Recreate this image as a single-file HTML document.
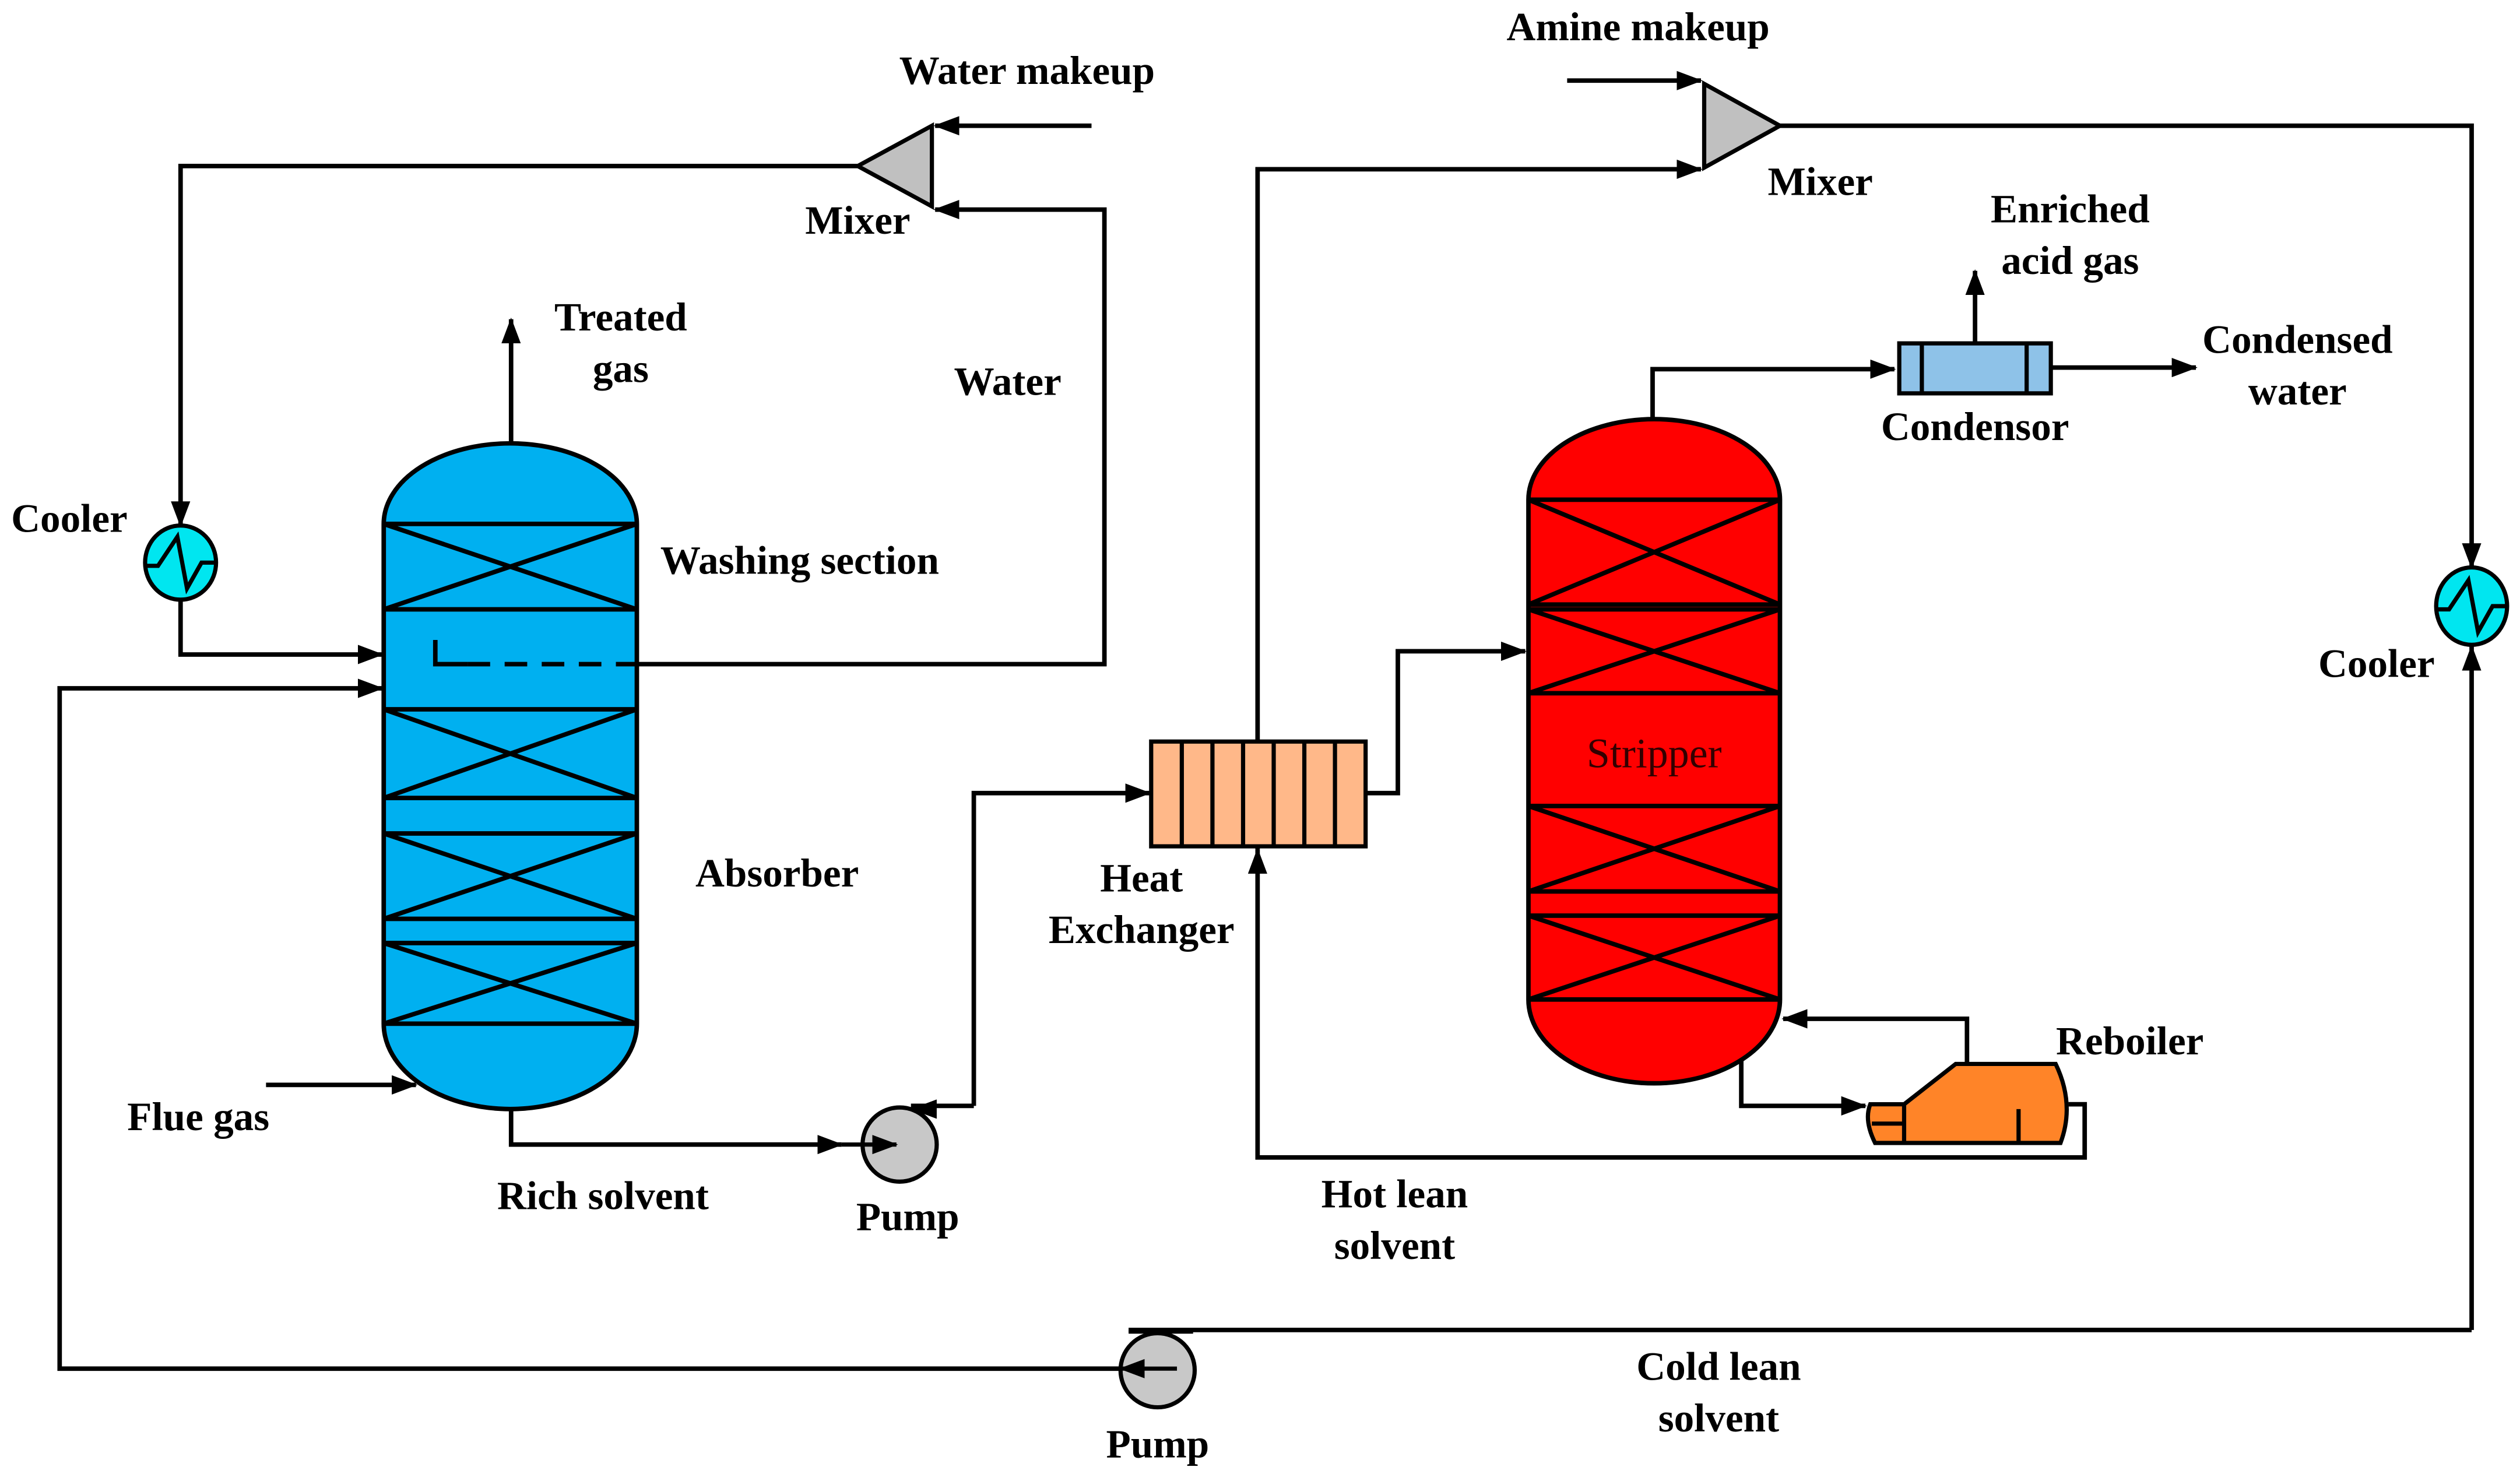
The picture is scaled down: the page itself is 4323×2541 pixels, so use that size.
<!DOCTYPE html>
<html><head><meta charset="utf-8"><style>html,body{margin:0;padding:0;background:#fff}svg{display:block}</style></head>
<body>
<svg width="4323" height="2541" viewBox="0 0 1563 918.7" xmlns="http://www.w3.org/2000/svg">
<defs>
<marker id="b" markerWidth="16" markerHeight="12" refX="15" refY="6" orient="auto" markerUnits="userSpaceOnUse" viewBox="0 0 16 12"><path d="M0,0 L16,6 L0,12 Z" fill="#000"/></marker>
</defs>
<rect width="1563" height="919" fill="#fff"/>
<g fill="none" stroke="#000" stroke-width="2.8">
<path d="M677,78 H580" marker-end="url(#b)"/>
<path d="M532,103 H112 V326" marker-end="url(#b)"/>
<path d="M112,372 V406 H237" marker-end="url(#b)"/>
<path d="M395,412 H685 V130 H580" marker-end="url(#b)"/>
<path d="M317,275 V198" marker-end="url(#b)"/>
<path d="M165,673 H258" marker-end="url(#b)"/>
<path d="M317,688 V710 H522" marker-end="url(#b)"/>
<path d="M604,686 H565"/>
<path d="M604,686 V492 H713" marker-end="url(#b)"/>
<path d="M847,492 H867 V404 H946" marker-end="url(#b)"/>
<path d="M1283,685 H1293 V718 H780 V527" marker-end="url(#b)"/>
<path d="M780,527 V105 H1055" marker-end="url(#b)"/>
<path d="M972,50 H1055" marker-end="url(#b)"/>
<path d="M1104,78 H1533 V352" marker-end="url(#b)"/>
<path d="M1533,825 V401" marker-end="url(#b)"/>
<path d="M1533,825 H700"/>
<path d="M695,849 H37 V427 H237" marker-end="url(#b)"/>
<path d="M1025,260 V229 H1175" marker-end="url(#b)"/>
<path d="M1225,212 V168" marker-end="url(#b)"/>
<path d="M1272,228 H1362" marker-end="url(#b)"/>
<path d="M1080,655 V686 H1157" marker-end="url(#b)"/>
<path d="M1220,660 V632 H1106" marker-end="url(#b)"/>
</g>
<g stroke="#000" stroke-width="2.8">
<path d="M238,325 A78.5,50 0 0 1 395,325 V635 A78.5,53 0 0 1 238,635 Z" fill="#00B0F0"/>
<g fill="none">
<path d="M238,325 H395 M238,378 H395 M238,325 L395,378 M395,325 L238,378"/>
<path d="M238,440 H395 M238,495 H395 M238,440 L395,495 M395,440 L238,495"/>
<path d="M238,517 H395 M238,570 H395 M238,517 L395,570 M395,517 L238,570"/>
<path d="M238,585 H395 M238,635 H395 M238,585 L395,635 M395,585 L238,635"/>
<path d="M270,397 V412 H290" />
<path d="M290,412 H395" stroke-dasharray="14,9"/>
</g>
</g>
<g stroke="#000" stroke-width="2.8">
<path d="M948,310 A78,50 0 0 1 1104,310 V620 A78,52 0 0 1 948,620 Z" fill="#FF0000"/>
<g fill="none">
<path d="M948,310 H1104 M948,375 H1104 M948,310 L1104,375 M1104,310 L948,375"/>
<path d="M948,378 H1104 M948,430 H1104 M948,378 L1104,430 M1104,378 L948,430"/>
<path d="M948,500 H1104 M948,553 H1104 M948,500 L1104,553 M1104,500 L948,553"/>
<path d="M948,568 H1104 M948,620 H1104 M948,568 L1104,620 M1104,568 L948,620"/>
</g>
</g>
<g stroke="#000" stroke-width="2.6">
<rect x="714" y="460" width="133" height="65" fill="#FFB889"/>
<path d="M733,460 V525 M752,460 V525 M771,460 V525 M790,460 V525 M809,460 V525 M828,460 V525"/>
</g>
<g stroke="#000" stroke-width="2.6">
<rect x="1178" y="213" width="94" height="31" fill="#8EC2E8"/>
<path d="M1192,213 V244 M1257,213 V244"/>
</g>
<path d="M578,78 V128 L532,103 Z" fill="#C0C0C0" stroke="#000" stroke-width="2.6"/>
<path d="M1057,52 V104 L1104,78 Z" fill="#C0C0C0" stroke="#000" stroke-width="2.6"/>
<g stroke="#000" stroke-width="2.6">
<ellipse cx="112" cy="349" rx="22" ry="23" fill="#00E6F0"/>
<path d="M91,351 H98 L110,333 L116,365 L125,349 H133" fill="none"/>
<ellipse cx="1533" cy="376" rx="22" ry="24" fill="#00E6F0"/>
<path d="M1512,378 H1519 L1531,360 L1537,392 L1546,376 H1554" fill="none"/>
</g>
<g stroke="#000" stroke-width="2.6">
<circle cx="558" cy="710" r="23" fill="#C8C8C8"/>
<path d="M522,710 H556" fill="none" marker-end="url(#b)"/>
<path d="M580,688 L566,688" fill="none" marker-end="url(#b)"/>
<circle cx="718" cy="850" r="23" fill="#C8C8C8"/>
<path d="M740,826 H700" fill="none"/>
<path d="M730,849 H695" fill="none" marker-end="url(#b)"/>
</g>
<g stroke="#000" stroke-width="2.6">
<path d="M1181,685 L1213,660 H1275 Q1287,685 1278,709 H1163 Q1156,695 1160,685 Z" fill="#FF8428"/>
<path d="M1181,685 V709 M1161,697 H1181 M1252,688 V709" fill="none"/>
</g>
<g font-family="'Liberation Serif',serif" font-weight="bold" font-size="25" fill="#000" text-anchor="middle">
<text x="637" y="52">Water makeup</text>
<text x="1016" y="25">Amine makeup</text>
<text x="532" y="145">Mixer</text>
<text x="1129" y="121">Mixer</text>
<text x="1284" y="138">Enriched</text>
<text x="1284" y="170">acid gas</text>
<text x="385" y="205">Treated</text>
<text x="385" y="237">gas</text>
<text x="625" y="245">Water</text>
<text x="1425" y="219">Condensed</text>
<text x="1425" y="251">water</text>
<text x="1225" y="273">Condensor</text>
<text x="43" y="330">Cooler</text>
<text x="496" y="356">Washing section</text>
<text x="1474" y="420">Cooler</text>
<text x="1026" y="476" font-weight="normal" font-size="26" fill="#300">Stripper</text>
<text x="482" y="550">Absorber</text>
<text x="708" y="553">Heat</text>
<text x="708" y="585">Exchanger</text>
<text x="1321" y="654">Reboiler</text>
<text x="123" y="701">Flue gas</text>
<text x="374" y="750">Rich solvent</text>
<text x="563" y="763">Pump</text>
<text x="865" y="749">Hot lean</text>
<text x="865" y="781">solvent</text>
<text x="1066" y="856">Cold lean</text>
<text x="1066" y="888">solvent</text>
<text x="718" y="904">Pump</text>
</g>
</svg>
</body></html>
